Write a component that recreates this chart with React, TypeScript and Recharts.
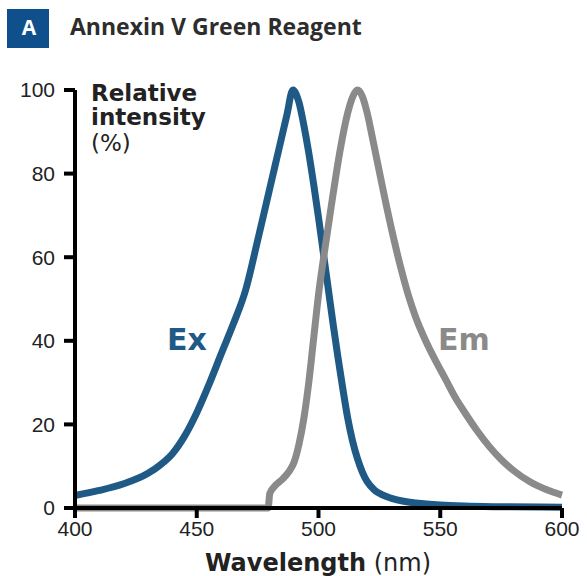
import React from 'react';
import { LineChart, Line, XAxis, YAxis } from 'recharts';

const exNm = [400, 410, 420, 430, 435, 440, 445, 450, 455, 460, 465, 470, 475, 480, 484, 487, 489.5, 492, 494, 496, 498, 500, 502, 504, 506, 508, 510, 512, 514, 516, 518, 520, 523, 526, 530, 535, 540, 550, 560, 575, 600];
const exVal = [3, 4.2, 5.8, 8.3, 10.3, 13, 17.2, 22.8, 29.5, 36.8, 44, 52, 64, 76.5, 86.5, 94, 100, 97, 91.5, 85, 77.5, 69.5, 61, 52.5, 44, 36, 28.5, 21.5, 16, 11.8, 8.6, 6.3, 4.3, 3.2, 2.3, 1.6, 1.2, 0.7, 0.45, 0.3, 0.2];

const emNm = [400, 479.3, 480, 482, 485, 488, 490, 492, 494, 496, 498, 500, 502, 505, 509, 512, 514, 516, 518, 520, 522, 524, 526, 528, 530, 532, 534, 537, 540, 544, 548, 552, 556, 560, 565, 570, 575, 580, 587, 594, 600];
const emVal = [0, 0, 3.5, 5.2, 6.8, 8.8, 11, 15.3, 21.5, 30, 40.5, 51, 59.5, 71.3, 86, 94.5, 98.3, 100, 98.5, 94.5, 89, 83.3, 77.6, 72, 66.7, 61.7, 57, 50.7, 45.5, 40, 35.3, 31, 26.6, 22.9, 18.6, 14.8, 11.6, 9, 6.2, 4.3, 3.1];

const xTicks = [400, 450, 500, 550, 600];
const yTicks = [0, 20, 40, 60, 80, 100];

const exData = exNm.map((nm, i) => ({ nm, v: exVal[i] }));
const emData = emNm.map((nm, i) => ({ nm, v: emVal[i] }));

const BLUE = '#1f5a86';
const GRAY = '#8a8a8a';
const tickFont = { fontSize: 21, fill: '#222', fontFamily: '"Liberation Sans", Arial, sans-serif' };

export default function App() {
  return (
    <div style={{ position: 'absolute', left: 0, top: 0, width: 587, height: 576, background: '#fff' }}>
      <LineChart width={587} height={576} margin={{ top: 90, right: 25, bottom: 28, left: 0 }}>
        <XAxis
          dataKey="nm"
          type="number"
          domain={[400, 600]}
          ticks={xTicks}
          interval={0}
          height={40}
          axisLine={{ stroke: '#000', strokeWidth: 4 }}
          tickLine={{ stroke: '#000', strokeWidth: 4 }}
          tickSize={10}
          tickMargin={3}
          tick={tickFont}
        />
        <YAxis
          type="number"
          domain={[0, 100]}
          ticks={yTicks}
          interval={0}
          width={75}
          axisLine={{ stroke: '#000', strokeWidth: 4 }}
          tickLine={{ stroke: '#000', strokeWidth: 4 }}
          tickSize={11}
          tickMargin={9}
          tick={tickFont}
        />
        <Line data={exData} dataKey="v" type="monotone" stroke={BLUE} strokeWidth={7} dot={false} activeDot={false} isAnimationActive={false} />
        <Line data={emData} dataKey="v" type="monotone" stroke={GRAY} strokeWidth={7} dot={false} activeDot={false} isAnimationActive={false} />
      </LineChart>
      <svg width={587} height={576} style={{ position: 'absolute', left: 0, top: 0, pointerEvents: 'none' }}>
        <rect x={7} y={9} width={42} height={39} fill="#0f4f8c" />
        <text x={29} y={35} textAnchor="middle" fill="#fff" fontFamily='"Open Sans", sans-serif' fontWeight={700} fontSize={21}>A</text>
        <text x={70} y={35} fill="#2d2d2d" fontFamily='"Open Sans", sans-serif' fontWeight={700} fontSize={23}>Annexin V Green Reagent</text>
        <g fontFamily='"DejaVu Sans", sans-serif' fontSize={23} fill="#222">
          <text x={91} y={101} fontWeight={700}>Relative</text>
          <text x={91} y={125} fontWeight={700}>intensity</text>
          <text x={91} y={151}>(%)</text>
        </g>
        <text x={167} y={350} fill={BLUE} fontFamily='"DejaVu Sans", sans-serif' fontWeight={700} fontSize={30}>Ex</text>
        <text x={438} y={350} fill={GRAY} fontFamily='"DejaVu Sans", sans-serif' fontWeight={700} fontSize={30}>Em</text>
        <text x={318} y={571} textAnchor="middle" fill="#222" fontFamily='"DejaVu Sans", sans-serif' fontSize={24}>
          <tspan fontWeight={700}>Wavelength</tspan>
          <tspan> (nm)</tspan>
        </text>
      </svg>
    </div>
  );
}
